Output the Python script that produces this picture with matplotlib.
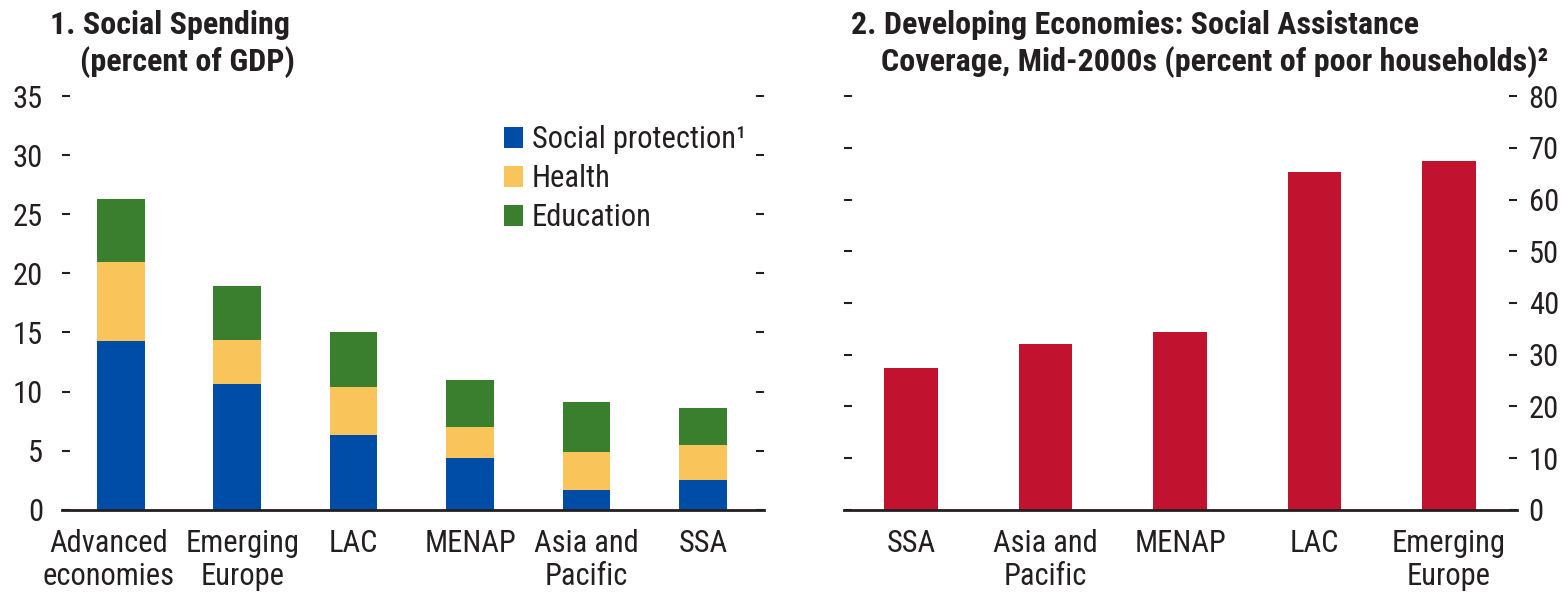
import numpy as np
import matplotlib
matplotlib.use("Agg")
import matplotlib.pyplot as plt
from matplotlib.transforms import ScaledTranslation

plt.rcParams['font.family'] = ['Roboto Condensed', 'Archivo Narrow', 'Barlow Semi Condensed', 'DejaVu Sans']
plt.rcParams['text.color'] = '#231f20'
plt.rcParams['xtick.color'] = '#231f20'
plt.rcParams['ytick.color'] = '#231f20'

# panel 1: social spending, percent of GDP
regions1 = ["Advanced\neconomies", "Emerging\nEurope", "LAC", "MENAP", "Asia and\nPacific", "SSA"]
social_protection = [14.25, 10.6, 6.3, 4.4, 1.7, 2.5]
health = [6.7, 3.8, 4.05, 2.6, 3.2, 3.0]
education = [5.35, 4.5, 4.7, 3.97, 4.18, 3.1]

# panel 2: social assistance coverage, percent of poor households
regions2 = ["SSA", "Asia and\nPacific", "MENAP", "LAC", "Emerging\nEurope"]
coverage = [27.4, 32.1, 34.3, 65.4, 67.5]

blue = "#004da8"
yellow = "#f9c55a"
green = "#3a7f2e"
red = "#c1132f"
fs = 22

fig = plt.figure(figsize=(15.62, 5.92), dpi=100)
ax1 = fig.add_axes([0.040, 0.139, 0.4488, 0.6985])
ax2 = fig.add_axes([0.5403, 0.139, 0.4312, 0.6985])

x1 = np.arange(len(regions1))
sp = np.array(social_protection)
he = np.array(health)
ed = np.array(education)
w = 0.41
ax1.bar(x1, sp, w, color=blue, label="Social protection\u00b9")
ax1.bar(x1, he, w, bottom=sp, color=yellow, label="Health")
ax1.bar(x1, ed, w, bottom=sp + he, color=green, label="Education")
ax1.set_xlim(-0.5, 5.52)
ax1.set_ylim(0, 35)
ax1.set_yticks(np.arange(0, 36, 5))
ax1.set_xticks(x1)
ax1.set_xticklabels(regions1, fontsize=fs, linespacing=1.15)
ax1.tick_params(axis='y', left=True, right=True, labelleft=True, labelright=False,
                direction='in', length=6, width=1.5, labelsize=fs, pad=14)
ax1.tick_params(axis='x', length=0, pad=14)
# nudge the first two category labels like the original
for lab, dx in zip(ax1.get_xticklabels()[:2], (-0.12, 0.05)):
    lab.set_transform(lab.get_transform() + ScaledTranslation(dx, 0, fig.dpi_scale_trans))
ax1.legend(loc='upper left', bbox_to_anchor=(0.613, 0.96), frameon=False, fontsize=fs,
           handlelength=0.6, handleheight=0.7, handletextpad=0.3, labelspacing=0.33,
           borderaxespad=0)

x2 = np.arange(len(regions2))
ax2.bar(x2, coverage, 0.40, color=red)
ax2.set_xlim(-0.5, 4.51)
ax2.set_ylim(0, 80)
ax2.set_yticks(np.arange(0, 81, 10))
ax2.set_xticks(x2)
ax2.set_xticklabels(regions2, fontsize=fs, linespacing=1.15)
ax2.tick_params(axis='y', left=True, right=True, labelleft=False, labelright=True,
                direction='in', length=6, width=1.5, labelsize=fs, pad=8)
ax2.tick_params(axis='x', length=0, pad=14)

for ax in (ax1, ax2):
    for s in ('top', 'left', 'right'):
        ax.spines[s].set_visible(False)
    ax.spines['bottom'].set_linewidth(2)
    ax.spines['bottom'].set_color('#231f20')

tfs = 23
fig.text(0.032, 0.957, "1. Social Spending", fontsize=tfs, fontweight='bold', va='center')
fig.text(0.051, 0.895, "(percent of GDP)", fontsize=tfs, fontweight='bold', va='center')
fig.text(0.545, 0.957, "2. Developing Economies: Social Assistance", fontsize=tfs,
         fontweight='bold', va='center')
fig.text(0.564, 0.895, "Coverage, Mid-2000s (percent of poor households)\u00b2", fontsize=tfs,
         fontweight='bold', va='center')

fig.savefig("out.png", dpi=100)
